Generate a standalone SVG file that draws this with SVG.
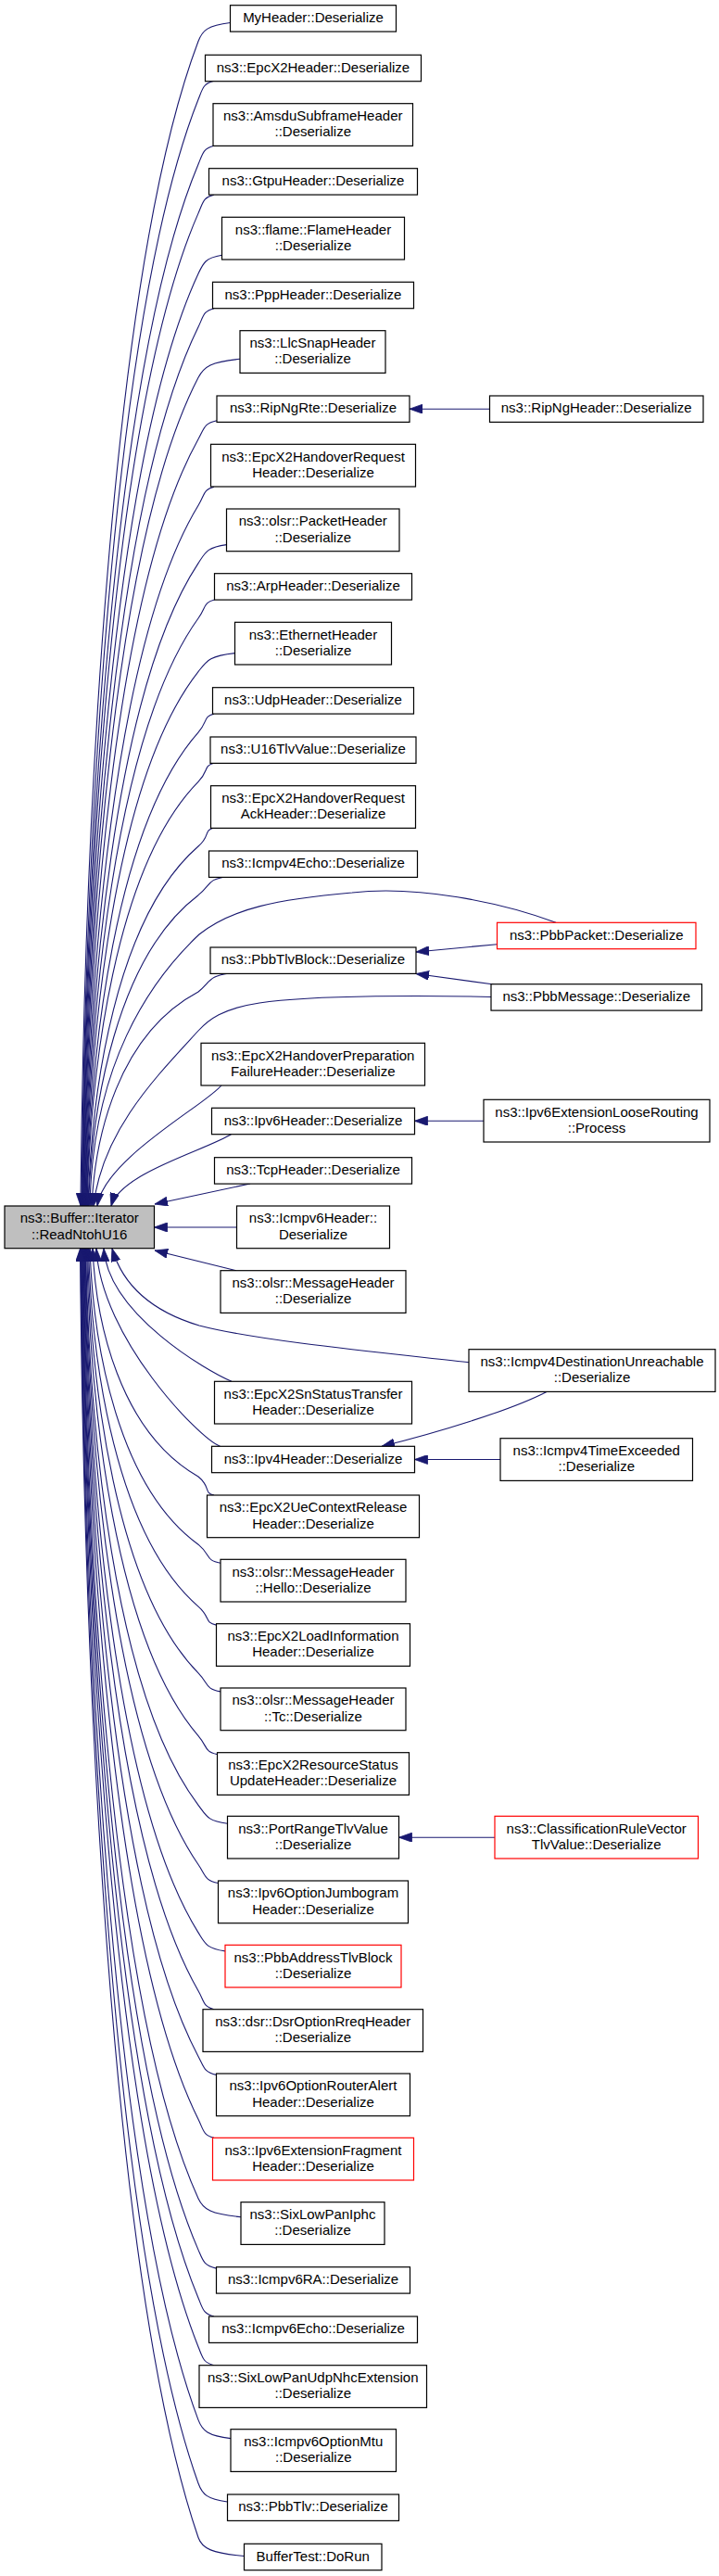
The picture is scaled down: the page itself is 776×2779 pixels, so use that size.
<svg xmlns="http://www.w3.org/2000/svg" width="776" height="2779" viewBox="0 0 776 2779">
<style>
.e{fill:none;stroke:#191970;stroke-width:1.1;marker-end:url(#ah)}
.n rect{fill:#ffffff;stroke:#000000;stroke-width:1.2}
.r rect{stroke:#ff0000}
.g rect{fill:#bfbfbf}
text{font-family:"Liberation Sans",Arial,sans-serif;font-size:15px;fill:#000000;text-anchor:middle}
</style>
<defs>
<marker id="ah" markerUnits="userSpaceOnUse" markerWidth="14" markerHeight="10" refX="14" refY="5" orient="auto">
<path d="M0,0 L14,5 L0,10 z" fill="#191970" stroke="#191970" stroke-width="0.8"/>
</marker>
</defs>
<rect width="776" height="2779" fill="#ffffff"/>
<g id="edges">
<path class="e" d="M248.5,24.5 C224.3,27.5 218.5,32.5 214,44.5 C118.8,295.8 90.8,899 87,1301"/>
<path class="e" d="M231,87.3 C219.1,90.3 218.8,95.3 214,107.3 C119.5,346 91.8,919 88,1301"/>
<path class="e" d="M231,157.2 C219.1,160.2 219,165.2 214,177.2 C119.9,402 92.3,941.4 88.5,1301"/>
<path class="e" d="M231,210.1 C219.1,213.1 219.3,218.1 214,230.1 C120.3,444.3 92.8,958.3 89,1301"/>
<path class="e" d="M239.5,275.3 C221.6,278.3 219.6,283.3 214,295.3 C120.6,496.4 93.2,979.2 89.5,1301"/>
<path class="e" d="M231,332.7 C219.1,335.7 219.9,340.7 214,352.7 C121,542.4 93.7,997.5 90,1301"/>
<path class="e" d="M259,387.3 C227.5,390.3 220.2,395.3 214,407.3 C121.4,586 94.2,1015 90.5,1301"/>
<path class="e" d="M234,453.7 C220,456.7 220.7,461.7 214,473.7 C121.8,639.2 94.7,1036.3 91,1301"/>
<path class="e" d="M231,525.3 C219.1,528.3 221.3,533.3 214,545.3 C122.1,696.4 95.2,1059.2 91.5,1301"/>
<path class="e" d="M244.5,587.6 C223.2,590.6 221.9,595.6 214,607.6 C122.5,746.3 95.7,1079.1 92,1301"/>
<path class="e" d="M231.5,647 C219.3,650 222.6,655 214,667 C122.9,793.8 96.1,1098.1 92.5,1301"/>
<path class="e" d="M253.5,704.6 C225.9,707.6 223.4,712.6 214,724.6 C123.3,839.9 96.6,1116.6 93,1301"/>
<path class="e" d="M231,770.1 C219.1,773.1 224.6,778.1 214,790.1 C123.6,892.3 97.1,1137.5 93.5,1301"/>
<path class="e" d="M231,823.3 C219.1,826.3 225.8,831.3 214,843.3 C124,934.8 97.6,1154.5 94,1301"/>
<path class="e" d="M231,893 C219.1,896 227.8,901 214,913 C124.8,990.6 98.6,1176.8 95,1301"/>
<path class="e" d="M245,945.7 C223.3,948.7 228.4,953.7 214,965.7 C125.5,1032.8 99.1,1193.7 95.5,1301"/>
<path class="e" d="M600,995.3 C540,973 450,955 380,963 C300,970 250,980 215,1008 C160,1060 100,1150 97,1301"/>
<path class="e" d="M248.5,1050 C224.4,1053 228.4,1058 214,1070 C127,1116.2 102.5,1227.1 99,1301"/>
<path class="e" d="M530,1075.5 C470,1074 340,1073 280,1082 C240,1088 225,1100 214,1112 C170,1160 110,1220 101,1301"/>
<path class="e" d="M239,1170.7 C225,1190 112,1250 105,1301"/>
<path class="e" d="M250,1223.3 C225,1240 130,1265 120,1301"/>
<path class="e" d="M270,1277 L167,1299"/>
<path class="e" d="M255.5,1324 L166.5,1324"/>
<path class="e" d="M255,1370.7 L167,1349"/>
<path class="e" d="M508.5,1470 C420,1460 280,1447 215,1430 C175,1418 135,1395 121,1347"/>
<path class="e" d="M250,1490.3 C225,1480 117,1418 112,1347"/>
<path class="e" d="M237.5,1560.3 C215,1552 109,1443 104,1347"/>
<path class="e" d="M231,1613 C219.1,1610 228.4,1605 214,1593 C128.5,1543.8 103.4,1425.7 100,1347"/>
<path class="e" d="M238,1686.2 C221.2,1683.2 228.4,1678.2 214,1666.2 C126.3,1602.4 100.5,1449.1 97,1347"/>
<path class="e" d="M233.5,1753.1 C219.9,1750.1 227.8,1745.1 214,1733.1 C125.1,1655.9 99.1,1470.6 95.5,1347"/>
<path class="e" d="M238,1824.9 C221.2,1821.9 225.7,1816.9 214,1804.9 C124.4,1713.3 98.1,1493.5 94.5,1347"/>
<path class="e" d="M234.5,1892.6 C220.2,1889.6 224.3,1884.6 214,1872.6 C123.6,1767.5 97.1,1515.2 93.5,1347"/>
<path class="e" d="M245.5,1967.3 C223.5,1964.3 223.1,1959.3 214,1947.3 C122.9,1827.2 96.1,1539.1 92.5,1347"/>
<path class="e" d="M235.5,2031.5 C220.5,2028.5 222.3,2023.5 214,2011.5 C122.5,1878.6 95.7,1559.6 92,1347"/>
<path class="e" d="M243,2104.9 C222.7,2101.9 221.5,2096.9 214,2084.9 C122.1,1937.3 95.2,1583.1 91.5,1347"/>
<path class="e" d="M231,2167.7 C219.1,2164.7 220.9,2159.7 214,2147.7 C121.8,1987.6 94.7,1603.2 91,1347"/>
<path class="e" d="M233.5,2238.4 C219.9,2235.4 220.4,2230.4 214,2218.4 C121.4,2044.1 94.2,1625.8 90.5,1347"/>
<path class="e" d="M231,2306.3 C219.1,2303.3 219.9,2298.3 214,2286.3 C121,2098.4 93.7,1647.6 90,1347"/>
<path class="e" d="M260,2391.7 C227.8,2388.7 219.5,2383.7 214,2371.7 C120.6,2166.7 93.2,1674.9 89.5,1347"/>
<path class="e" d="M233.5,2447.1 C219.9,2444.1 219.2,2439.1 214,2427.1 C120.3,2211.1 92.8,1692.6 89,1347"/>
<path class="e" d="M231,2499 C219.1,2496 219,2491 214,2479 C119.9,2252.6 92.3,1709.2 88.5,1347"/>
<path class="e" d="M231,2551.7 C219.1,2548.7 218.8,2543.7 214,2531.7 C119.5,2294.8 91.8,1726.1 88,1347"/>
<path class="e" d="M249,2630.6 C224.5,2627.6 218.5,2622.6 214,2610.6 C119.1,2357.9 91.3,1751.4 87.5,1347"/>
<path class="e" d="M245.5,2699 C223.5,2696 218.3,2691 214,2679 C118.8,2412.6 90.8,1773.2 87,1347"/>
<path class="e" d="M263.5,2757.5 C228.9,2754.5 218.1,2749.5 214,2737.5 C118.4,2459.4 90.3,1792 86.5,1347"/>
<path class="e" d="M528.5,441.2 L442,441.2"/>
<path class="e" d="M536.5,1018.7 L449,1027"/>
<path class="e" d="M533,1062 L449,1050.5"/>
<path class="e" d="M522,1209.3 L447.5,1209.3"/>
<path class="e" d="M590,1501.4 C550,1522 470,1546 412,1560.3"/>
<path class="e" d="M540,1574.5 L447.5,1574.5"/>
<path class="e" d="M534,1982.2 L430.5,1982.2"/>
</g>
<g id="n0" class="n g"><rect x="5" y="1301" width="161.5" height="45.7"/><text><tspan x="85.75" y="1319.3">ns3::Buffer::Iterator</tspan><tspan x="85.75" y="1336.5">::ReadNtohU16</tspan></text></g>
<g id="n1" class="n"><rect x="248.5" y="5.7" width="179" height="28.4"/><text x="338" y="24">MyHeader::Deserialize</text></g>
<g id="n2" class="n"><rect x="221.5" y="59.3" width="233" height="28.4"/><text x="338" y="77.6">ns3::EpcX2Header::Deserialize</text></g>
<g id="n3" class="n"><rect x="230" y="111.7" width="215.5" height="45.7"/><text><tspan x="337.75" y="130">ns3::AmsduSubframeHeader</tspan><tspan x="337.75" y="147.2">::Deserialize</tspan></text></g>
<g id="n4" class="n"><rect x="225.5" y="181.7" width="225" height="28.4"/><text x="338" y="200">ns3::GtpuHeader::Deserialize</text></g>
<g id="n5" class="n"><rect x="239.5" y="234.3" width="197" height="45.7"/><text><tspan x="338" y="252.6">ns3::flame::FlameHeader</tspan><tspan x="338" y="269.8">::Deserialize</tspan></text></g>
<g id="n6" class="n"><rect x="229.5" y="304.3" width="217" height="28.4"/><text x="338" y="322.6">ns3::PppHeader::Deserialize</text></g>
<g id="n7" class="n"><rect x="259" y="356.7" width="157" height="45.7"/><text><tspan x="337.5" y="375">ns3::LlcSnapHeader</tspan><tspan x="337.5" y="392.2">::Deserialize</tspan></text></g>
<g id="n8" class="n"><rect x="234" y="427" width="208" height="28.4"/><text x="338" y="445.3">ns3::RipNgRte::Deserialize</text></g>
<g id="n9" class="n"><rect x="528.5" y="427" width="230.5" height="28.4"/><text x="643.75" y="445.3">ns3::RipNgHeader::Deserialize</text></g>
<g id="n10" class="n"><rect x="227.5" y="479.3" width="221" height="45.7"/><text><tspan x="338" y="497.6">ns3::EpcX2HandoverRequest</tspan><tspan x="338" y="514.8">Header::Deserialize</tspan></text></g>
<g id="n11" class="n"><rect x="244.5" y="549" width="186.5" height="45.7"/><text><tspan x="337.75" y="567.3">ns3::olsr::PacketHeader</tspan><tspan x="337.75" y="584.5">::Deserialize</tspan></text></g>
<g id="n12" class="n"><rect x="231.5" y="618.7" width="213" height="28.4"/><text x="338" y="637">ns3::ArpHeader::Deserialize</text></g>
<g id="n13" class="n"><rect x="253.5" y="671.3" width="169" height="45.7"/><text><tspan x="338" y="689.6">ns3::EthernetHeader</tspan><tspan x="338" y="706.8">::Deserialize</tspan></text></g>
<g id="n14" class="n"><rect x="229.5" y="741.7" width="217" height="28.4"/><text x="338" y="760">ns3::UdpHeader::Deserialize</text></g>
<g id="n15" class="n"><rect x="227" y="795" width="222" height="28.4"/><text x="338" y="813.3">ns3::U16TlvValue::Deserialize</text></g>
<g id="n16" class="n"><rect x="227.5" y="847.7" width="221" height="45.7"/><text><tspan x="338" y="866">ns3::EpcX2HandoverRequest</tspan><tspan x="338" y="883.2">AckHeader::Deserialize</tspan></text></g>
<g id="n17" class="n"><rect x="225.5" y="918" width="225" height="28.4"/><text x="338" y="936.3">ns3::Icmpv4Echo::Deserialize</text></g>
<g id="n18" class="n r"><rect x="536.5" y="995.3" width="214.5" height="28.4"/><text x="643.75" y="1013.6">ns3::PbbPacket::Deserialize</text></g>
<g id="n19" class="n"><rect x="227" y="1022" width="222" height="28.4"/><text x="338" y="1040.3">ns3::PbbTlvBlock::Deserialize</text></g>
<g id="n20" class="n"><rect x="530" y="1061.7" width="227.5" height="28.4"/><text x="643.75" y="1080">ns3::PbbMessage::Deserialize</text></g>
<g id="n21" class="n"><rect x="217" y="1125.3" width="241.5" height="45.7"/><text><tspan x="337.75" y="1143.6">ns3::EpcX2HandoverPreparation</tspan><tspan x="337.75" y="1160.8">FailureHeader::Deserialize</tspan></text></g>
<g id="n22" class="n"><rect x="228.5" y="1195.3" width="219" height="28.4"/><text x="338" y="1213.6">ns3::Ipv6Header::Deserialize</text></g>
<g id="n23" class="n"><rect x="522" y="1186.3" width="244" height="45.7"/><text><tspan x="644" y="1204.6">ns3::Ipv6ExtensionLooseRouting</tspan><tspan x="644" y="1221.8">::Process</tspan></text></g>
<g id="n24" class="n"><rect x="231.5" y="1248.7" width="213" height="28.4"/><text x="338" y="1267">ns3::TcpHeader::Deserialize</text></g>
<g id="n25" class="n"><rect x="255.5" y="1301" width="165" height="45.7"/><text><tspan x="338" y="1319.3">ns3::Icmpv6Header::</tspan><tspan x="338" y="1336.5">Deserialize</tspan></text></g>
<g id="n26" class="n"><rect x="238" y="1370.7" width="200" height="45.7"/><text><tspan x="338" y="1389">ns3::olsr::MessageHeader</tspan><tspan x="338" y="1406.2">::Deserialize</tspan></text></g>
<g id="n27" class="n"><rect x="506" y="1455.7" width="266" height="45.7"/><text><tspan x="639" y="1474">ns3::Icmpv4DestinationUnreachable</tspan><tspan x="639" y="1491.2">::Deserialize</tspan></text></g>
<g id="n28" class="n"><rect x="231.5" y="1490.3" width="213" height="45.7"/><text><tspan x="338" y="1508.6">ns3::EpcX2SnStatusTransfer</tspan><tspan x="338" y="1525.8">Header::Deserialize</tspan></text></g>
<g id="n29" class="n"><rect x="228.5" y="1560.3" width="219" height="28.4"/><text x="338" y="1578.6">ns3::Ipv4Header::Deserialize</text></g>
<g id="n30" class="n"><rect x="540" y="1551.7" width="207.5" height="45.7"/><text><tspan x="643.75" y="1570">ns3::Icmpv4TimeExceeded</tspan><tspan x="643.75" y="1587.2">::Deserialize</tspan></text></g>
<g id="n31" class="n"><rect x="223.5" y="1613" width="229" height="45.7"/><text><tspan x="338" y="1631.3">ns3::EpcX2UeContextRelease</tspan><tspan x="338" y="1648.5">Header::Deserialize</tspan></text></g>
<g id="n32" class="n"><rect x="238" y="1682.3" width="200" height="45.7"/><text><tspan x="338" y="1700.6">ns3::olsr::MessageHeader</tspan><tspan x="338" y="1717.8">::Hello::Deserialize</tspan></text></g>
<g id="n33" class="n"><rect x="233.5" y="1751.7" width="209" height="45.7"/><text><tspan x="338" y="1770">ns3::EpcX2LoadInformation</tspan><tspan x="338" y="1787.2">Header::Deserialize</tspan></text></g>
<g id="n34" class="n"><rect x="238" y="1821" width="200" height="45.7"/><text><tspan x="338" y="1839.3">ns3::olsr::MessageHeader</tspan><tspan x="338" y="1856.5">::Tc::Deserialize</tspan></text></g>
<g id="n35" class="n"><rect x="234.5" y="1890.7" width="207" height="45.7"/><text><tspan x="338" y="1909">ns3::EpcX2ResourceStatus</tspan><tspan x="338" y="1926.2">UpdateHeader::Deserialize</tspan></text></g>
<g id="n36" class="n"><rect x="245.5" y="1959.3" width="185" height="45.7"/><text><tspan x="338" y="1977.6">ns3::PortRangeTlvValue</tspan><tspan x="338" y="1994.8">::Deserialize</tspan></text></g>
<g id="n37" class="n r"><rect x="534" y="1959.3" width="219.5" height="45.7"/><text><tspan x="643.75" y="1977.6">ns3::ClassificationRuleVector</tspan><tspan x="643.75" y="1994.8">TlvValue::Deserialize</tspan></text></g>
<g id="n38" class="n"><rect x="235.5" y="2029" width="205" height="45.7"/><text><tspan x="338" y="2047.3">ns3::Ipv6OptionJumbogram</tspan><tspan x="338" y="2064.5">Header::Deserialize</tspan></text></g>
<g id="n39" class="n r"><rect x="243" y="2098.3" width="190" height="45.7"/><text><tspan x="338" y="2116.6">ns3::PbbAddressTlvBlock</tspan><tspan x="338" y="2133.8">::Deserialize</tspan></text></g>
<g id="n40" class="n"><rect x="219" y="2167.7" width="237.5" height="45.7"/><text><tspan x="337.75" y="2186">ns3::dsr::DsrOptionRreqHeader</tspan><tspan x="337.75" y="2203.2">::Deserialize</tspan></text></g>
<g id="n41" class="n"><rect x="233.5" y="2237" width="209" height="45.7"/><text><tspan x="338" y="2255.3">ns3::Ipv6OptionRouterAlert</tspan><tspan x="338" y="2272.5">Header::Deserialize</tspan></text></g>
<g id="n42" class="n r"><rect x="229.5" y="2306.3" width="217" height="45.7"/><text><tspan x="338" y="2324.6">ns3::Ipv6ExtensionFragment</tspan><tspan x="338" y="2341.8">Header::Deserialize</tspan></text></g>
<g id="n43" class="n"><rect x="260" y="2375.7" width="155" height="45.7"/><text><tspan x="337.5" y="2394">ns3::SixLowPanIphc</tspan><tspan x="337.5" y="2411.2">::Deserialize</tspan></text></g>
<g id="n44" class="n"><rect x="233.5" y="2445.7" width="209" height="28.4"/><text x="338" y="2464">ns3::Icmpv6RA::Deserialize</text></g>
<g id="n45" class="n"><rect x="225.5" y="2499" width="225" height="28.4"/><text x="338" y="2517.3">ns3::Icmpv6Echo::Deserialize</text></g>
<g id="n46" class="n"><rect x="215" y="2551.7" width="245.5" height="45.7"/><text><tspan x="337.75" y="2570">ns3::SixLowPanUdpNhcExtension</tspan><tspan x="337.75" y="2587.2">::Deserialize</tspan></text></g>
<g id="n47" class="n"><rect x="249" y="2620.7" width="178.5" height="45.7"/><text><tspan x="338.25" y="2639">ns3::Icmpv6OptionMtu</tspan><tspan x="338.25" y="2656.2">::Deserialize</tspan></text></g>
<g id="n48" class="n"><rect x="245.5" y="2691" width="185" height="28.4"/><text x="338" y="2709.3">ns3::PbbTlv::Deserialize</text></g>
<g id="n49" class="n"><rect x="263.5" y="2744.3" width="148.5" height="28.4"/><text x="337.75" y="2762.6">BufferTest::DoRun</text></g>
</svg>
